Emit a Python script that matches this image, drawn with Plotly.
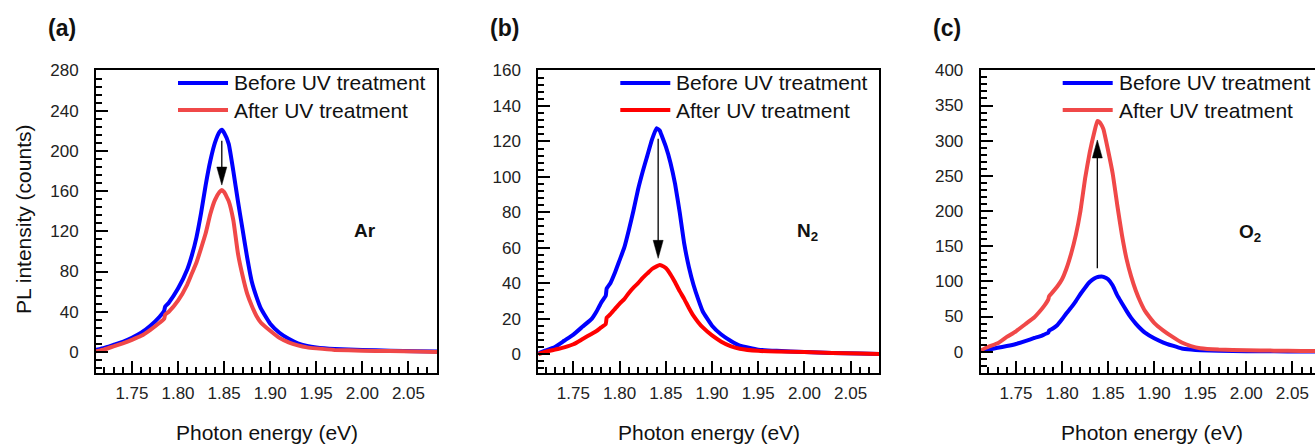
import plotly.graph_objects as go

W, H = 1315, 444
FONT = "Arial, Liberation Sans, sans-serif"

# ---------------- data ----------------
# (a) Ar
energy_a = [1.711, 1.72, 1.73, 1.74, 1.75, 1.76, 1.77, 1.78, 1.785, 1.786, 1.79, 1.80, 1.81, 1.815,
            1.82, 1.825, 1.83, 1.835, 1.84, 1.845, 1.8475, 1.85, 1.855, 1.86, 1.865, 1.87, 1.875,
            1.88, 1.885, 1.89, 1.90, 1.91, 1.92, 1.93, 1.94, 1.95, 1.97, 2.00, 2.03, 2.06, 2.081]
before_a = [2, 4, 7, 10, 14, 19, 26, 35, 41, 45, 49, 63, 82, 96,
            114, 138, 166, 190, 208, 219, 221, 218, 207, 180, 150, 122, 94,
            70, 55, 43, 28, 19, 13, 8.5, 6, 4.5, 3, 2, 1.2, 0.6, 0.3]
after_a = [0.5, 2.5, 5.5, 8.5, 12, 16, 22, 29, 33, 37, 40, 51, 67, 78,
           89, 103, 118, 137, 151, 159, 161, 159, 150, 131, 98, 76, 58,
           46, 36, 29, 21, 14, 9.5, 6.5, 4.5, 3.5, 2, 1.2, 0.8, 0.3, 0]

# (b) N2
energy_b = [1.712, 1.72, 1.73, 1.74, 1.75, 1.76, 1.77, 1.775, 1.78, 1.785, 1.786, 1.79, 1.795, 1.80,
            1.805, 1.81, 1.815, 1.82, 1.825, 1.83, 1.835, 1.84, 1.8435, 1.845, 1.85, 1.855, 1.86,
            1.865, 1.87, 1.875, 1.88, 1.885, 1.89, 1.90, 1.91, 1.92, 1.93, 1.95, 1.97, 2.00, 2.03,
            2.06, 2.081]
before_b = [0.5, 2, 4, 7.5, 11, 15.5, 20, 24, 29, 33, 37, 40, 46, 53,
            60, 70, 81, 93, 103, 112, 121, 127.5, 126, 124, 117, 108, 96,
            80, 62, 49, 39, 31, 24, 16, 11, 7.5, 4.8, 2.5, 1.8, 1.2, 0.6,
            0.3, 0]
after_b = [0, 1.3, 2.5, 3.8, 5.5, 8.5, 11.5, 13, 15, 17, 20.5, 22.5, 25.5, 28.5,
           31, 34.5, 37.5, 40, 43, 45.5, 48, 49.5, 50.2, 50, 48.5, 45, 40.5,
           35.5, 31, 26, 21.5, 18, 15, 10.5, 7, 4.5, 3, 1.8, 1.4, 1.2, 0.6,
           0.3, 0]

# (c) O2
energy_c = [1.712, 1.72, 1.73, 1.74, 1.75, 1.76, 1.77, 1.775, 1.78, 1.785, 1.786, 1.79, 1.795, 1.80,
            1.805, 1.81, 1.815, 1.82, 1.825, 1.83, 1.835, 1.8383, 1.84, 1.843, 1.845, 1.85, 1.855,
            1.86, 1.865, 1.87, 1.875, 1.88, 1.885, 1.89, 1.90, 1.91, 1.92, 1.93, 1.94, 1.95, 1.97,
            2.00, 2.03, 2.06, 2.081]
before_c = [1, 3, 5.5, 8, 11, 15, 19.5, 21.5, 24, 27, 30, 33, 38, 46,
            55, 63, 72, 82, 91, 99, 104, 106, 106.5, 107, 106.5, 103, 94,
            80, 69, 58, 48, 40, 33, 27, 19, 13, 8.5, 4.5, 3, 2, 1.2,
            0.8, 0.5, 0.3, 0.2]
after_c = [2, 7, 12, 21, 29, 39, 49, 56, 64, 74, 79, 85, 93, 103,
           119, 140, 166, 200, 246, 283, 312, 328, 327, 322, 316, 286, 253,
           208, 166, 132, 107, 87, 71, 58, 41, 30, 21, 13, 8, 5, 3,
           2, 1.5, 1, 1]

# arrows: energy, start and end intensity
arrow_x = [1.8475, 1.8417, 1.8383]
arrow_from = [210, 121.5, 118.7]
arrow_to = [166, 54, 301]

panel_labels = ["(a)", "(b)", "(c)"]
gas_labels = ["<b>Ar</b>", "<b>N<sub>2</sub></b>", "<b>O<sub>2</sub></b>"]
legend_names = ["Before UV treatment", "After UV treatment"]
x_title = "Photon energy (eV)"
y_title = "PL intensity (counts)"

# ---------------- layout geometry (pixels) ----------------
BOX_TOP, BOX_BOT = 70, 373
panels = [
    dict(x=energy_a, b=before_a, a=after_a, box=(96, 437), xr=[1.711, 2.081], yr=[-21, 280.5],
         dt=40, mdt=8, red="#F04848", ymirror=True, gas_xy=(365, 230)),
    dict(x=energy_b, b=before_b, a=after_b, box=(538.3, 879.3), xr=[1.712, 2.081], yr=[-10.7, 160.3],
         dt=20, mdt=4, red="#FF0000", ymirror=True, gas_xy=(808, 232)),
    dict(x=energy_c, b=before_c, a=after_c, box=(980.7, 1315), xr=[1.7117, 2.0746], yr=[-30.3, 400.5],
         dt=50, mdt=10, red="#F04848", ymirror=False, gas_xy=(1250, 233)),
]
BLUE = "#0000FF"


def px(xpix):
    return xpix / W


def py(ypix):
    return 1 - ypix / H


fig = go.Figure()
annotations = []
shapes = []

for i, p in enumerate(panels):
    n = "" if i == 0 else str(i + 1)
    xa, ya = "x" + n, "y" + n
    l, r = p["box"]
    fig.add_trace(go.Scatter(x=p["x"], y=p["b"], mode="lines", xaxis=xa, yaxis=ya,
                             line=dict(color=BLUE, width=4, shape="spline", smoothing=0.4),
                             showlegend=False, name=legend_names[0]))
    fig.add_trace(go.Scatter(x=p["x"], y=p["a"], mode="lines", xaxis=xa, yaxis=ya,
                             line=dict(color=p["red"], width=4, shape="spline", smoothing=0.4),
                             showlegend=False, name=legend_names[1]))

    # arrow
    xpp = (p["xr"][1] - p["xr"][0]) / (r - l)
    ypp = (p["yr"][1] - p["yr"][0]) / (BOX_BOT - BOX_TOP)
    ax, a0, a1 = arrow_x[i], arrow_from[i], arrow_to[i]
    sgn = 1 if a1 < a0 else -1
    head_len = 18 * ypp
    half_w = 5 * xpp
    fig.add_trace(go.Scatter(x=[ax, ax], y=[a0, a1 + sgn * head_len * 0.8], mode="lines",
                             xaxis=xa, yaxis=ya, line=dict(color="black", width=1.3),
                             showlegend=False, hoverinfo="skip"))
    fig.add_trace(go.Scatter(x=[ax - half_w, ax + half_w, ax, ax - half_w],
                             y=[a1 + sgn * head_len, a1 + sgn * head_len, a1, a1 + sgn * head_len],
                             mode="lines", fill="toself", fillcolor="black", xaxis=xa, yaxis=ya,
                             line=dict(color="black", width=0.5), showlegend=False, hoverinfo="skip"))

    dom_x = [px(l), min(px(r), 1.0)]
    dom_y = [py(BOX_BOT), py(BOX_TOP)]
    axis_common = dict(showline=True, linecolor="black", linewidth=2, ticks="inside",
                       tickcolor="black", tickwidth=2, ticklen=12, showgrid=False, zeroline=False,
                       automargin=False,
                       tickfont=dict(family=FONT, size=17, color="#222"))
    fig.layout["xaxis" + n] = dict(
        axis_common, domain=dom_x, range=p["xr"], anchor=ya, mirror=True,
        tickmode="linear", tick0=1.75, dtick=0.05, tickformat=".2f", ticklabelstandoff=4,
        minor=dict(ticks="inside", ticklen=6, tickwidth=1.5, tickcolor="black", dtick=0.01, tick0=1.75))
    fig.layout["yaxis" + n] = dict(
        axis_common, domain=dom_y, range=p["yr"], anchor=xa, mirror=p["ymirror"],
        tickmode="linear", tick0=0, dtick=p["dt"], ticklabelstandoff=12,
        minor=dict(ticks="inside", ticklen=6, tickwidth=1.5, tickcolor="black", dtick=p["mdt"], tick0=0))

    # legend (manual)
    for k, (col, yy) in enumerate([(BLUE, 83), (p["red"], 110)]):
        shapes.append(dict(type="line", xref="paper", yref="paper", x0=px(l + 82), x1=px(l + 132),
                           y0=py(yy), y1=py(yy), line=dict(color=col, width=4)))
        annotations.append(dict(text=legend_names[k], xref="paper", yref="paper", x=px(l + 136),
                                y=py(yy), xanchor="left", yanchor="middle", showarrow=False,
                                font=dict(family=FONT, size=21, color="#111")))

    # panel label
    annotations.append(dict(text="<b>%s</b>" % panel_labels[i], xref="paper", yref="paper",
                            x=px(l - 34), y=py(28), xanchor="center", yanchor="middle",
                            showarrow=False, font=dict(family=FONT, size=23, color="#111")))
    # gas label
    gx, gy = p["gas_xy"]
    annotations.append(dict(text=gas_labels[i], xref="paper", yref="paper", x=px(gx), y=py(gy),
                            xanchor="center", yanchor="middle", showarrow=False,
                            font=dict(family=FONT, size=19, color="#111")))
    # x title
    annotations.append(dict(text=x_title, xref="paper", yref="paper", x=px(l + 171), y=py(432),
                            xanchor="center", yanchor="middle", showarrow=False,
                            font=dict(family=FONT, size=21, color="#111")))

annotations.append(dict(text=y_title, xref="paper", yref="paper", x=px(23), y=py(220),
                        xanchor="center", yanchor="middle", textangle=-90, showarrow=False,
                        font=dict(family=FONT, size=21, color="#111")))

fig.update_layout(width=W, height=H, autosize=False, margin=dict(l=0, r=0, t=0, b=0, pad=0),
                  plot_bgcolor="white", paper_bgcolor="white", showlegend=False,
                  annotations=annotations, shapes=shapes)

fig.write_html("out.html", config={"displayModeBar": False}, post_script=(
    "document.documentElement.style.margin='0';document.documentElement.style.padding='0';"
    "document.body.style.margin='0';document.body.style.padding='0';"
    "document.body.style.overflow='hidden';"))
